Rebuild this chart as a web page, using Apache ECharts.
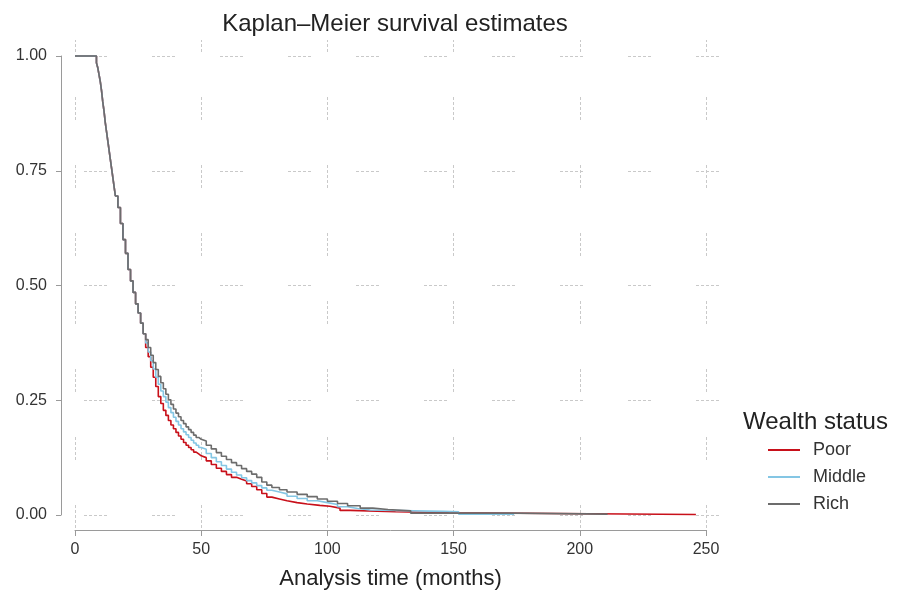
<!DOCTYPE html>
<html>
<head>
<meta charset="utf-8">
<script src="https://cdn.jsdelivr.net/npm/echarts@6/dist/echarts.min.js"></script>
<style>html,body{margin:0;padding:0;background:#fff}#c{width:898px;height:595px}</style>
</head>
<body>
<div id="c"></div>
<script>
// ---- data ----
var seriesNames = ['Poor', 'Middle', 'Rich'];
var xTicks = [0, 50, 100, 150, 200, 250];
var yTicks = [0, 0.25, 0.5, 0.75, 1];

var earlyTime = [0, 8.5, 9, 9.5, 10, 10.5, 11, 11.5, 12, 12.5, 13, 13.5, 14, 14.5, 15, 15.5, 16, 17, 18, 19, 20, 21, 22, 23, 24, 25, 26, 27];
var earlySurv = [1.000, 0.985, 0.975, 0.960, 0.945, 0.925, 0.900, 0.880, 0.855, 0.835, 0.815, 0.795, 0.775, 0.755, 0.735, 0.715, 0.695, 0.670, 0.635, 0.600, 0.570, 0.535, 0.510, 0.485, 0.460, 0.440, 0.418, 0.395];

var poorTime = [28, 29, 30, 31, 32, 33, 34, 35, 36, 37, 38, 39, 40, 41, 42, 43, 44, 45, 46, 47, 48, 49, 50, 52, 54, 56, 58, 60, 62, 64, 66, 68, 70, 72, 74, 76, 78, 81, 84, 88, 92, 97, 101, 105, 109, 127, 148, 246];
var poorSurv = [0.365, 0.345, 0.322, 0.300, 0.280, 0.258, 0.243, 0.228, 0.217, 0.206, 0.196, 0.188, 0.180, 0.172, 0.165, 0.158, 0.152, 0.147, 0.142, 0.137, 0.133, 0.129, 0.125, 0.118, 0.110, 0.102, 0.095, 0.088, 0.082, 0.078, 0.074, 0.068, 0.062, 0.055, 0.047, 0.039, 0.035, 0.031, 0.027, 0.024, 0.021, 0.019, 0.015, 0.010, 0.007, 0.005, 0.001, 0.001];

var middleTime = [28, 29, 30, 31, 32, 33, 34, 35, 36, 37, 38, 39, 40, 41, 42, 43, 44, 45, 46, 47, 48, 49, 50, 52, 54, 56, 58, 60, 62, 64, 66, 68, 70, 72, 74, 76, 78, 81, 84, 88, 92, 96, 100, 104, 108, 112, 117, 146, 152, 174];
var middleSurv = [0.375, 0.355, 0.336, 0.318, 0.300, 0.285, 0.270, 0.258, 0.246, 0.234, 0.223, 0.213, 0.204, 0.196, 0.188, 0.181, 0.175, 0.169, 0.163, 0.157, 0.152, 0.147, 0.143, 0.134, 0.125, 0.116, 0.108, 0.100, 0.093, 0.087, 0.081, 0.075, 0.070, 0.064, 0.059, 0.054, 0.050, 0.046, 0.041, 0.036, 0.031, 0.027, 0.023, 0.018, 0.014, 0.011, 0.008, 0.007, 0.002, 0.002];

var richTime = [28, 29, 30, 31, 32, 33, 34, 35, 36, 37, 38, 39, 40, 41, 42, 43, 44, 45, 46, 47, 48, 49, 50, 52, 54, 56, 58, 60, 62, 64, 66, 68, 70, 72, 74, 76, 78, 81, 84, 88, 92, 96, 100, 104, 108, 113, 118, 124, 133, 173, 211];
var richSurv = [0.382, 0.365, 0.348, 0.332, 0.317, 0.302, 0.288, 0.275, 0.263, 0.251, 0.241, 0.231, 0.222, 0.214, 0.206, 0.199, 0.192, 0.186, 0.180, 0.174, 0.169, 0.165, 0.161, 0.152, 0.144, 0.136, 0.128, 0.121, 0.114, 0.108, 0.101, 0.095, 0.089, 0.082, 0.072, 0.065, 0.060, 0.055, 0.050, 0.045, 0.040, 0.035, 0.030, 0.025, 0.020, 0.015, 0.012, 0.009, 0.004, 0.002, 0.002];

// ---- build ----
function pairs(t, s) { var out = []; for (var i = 0; i < t.length; i++) out.push([t[i], s[i]]); return out; }
var poorData = pairs(earlyTime, earlySurv).concat(pairs(poorTime, poorSurv));
var middleData = pairs(earlyTime, earlySurv).concat(pairs(middleTime, middleSurv));
var richData = pairs(earlyTime, earlySurv).concat(pairs(richTime, richSurv));

var colors = ['#c8101a', '#84c6e4', '#6c6c6c'];
var axisGray = '#9a9a9a';
var gridStyle = { color: '#c9c9c9', width: 1, type: [3, 2, 3, 2, 3, 2, 3, 2, 3, 45] };
var font = 'Liberation Sans, Arial, Helvetica, sans-serif';

var chart = echarts.init(document.getElementById('c'), null, { renderer: 'canvas' });
function mkSeries(name, data, color) {
  return {
    name: name, type: 'line', step: 'end', data: data, xAxisIndex: 0, yAxisIndex: 0,
    showSymbol: false, symbol: 'none', animation: false, clip: false,
    lineStyle: { color: color, width: 1.6 }, itemStyle: { color: color }
  };
}
chart.setOption({
  animation: false,
  textStyle: { fontFamily: font },
  title: [
    { text: 'Kaplan\u2013Meier survival estimates', left: 390, top: 7, textAlign: 'center',
      textStyle: { fontSize: 24, fontWeight: 'normal', color: '#222', fontFamily: font } },
    { text: 'Wealth status', left: 738, top: 405,
      textStyle: { fontSize: 24, fontWeight: 'normal', color: '#222', fontFamily: font } }
  ],
  legend: {
    data: seriesNames, orient: 'vertical', left: 763, top: 436,
    icon: 'rect', itemWidth: 32, itemHeight: 2, itemGap: 9,
    textStyle: { fontSize: 18, color: '#333', fontFamily: font, padding: [0, 0, 0, 8] }
  },
  grid: [
    { left: 75, right: 192, top: 56, bottom: 80 },
    { left: 75, right: 192, top: 40, bottom: 65 },
    { left: 62, right: 179, top: 56, bottom: 80 }
  ],
  xAxis: [
    { gridIndex: 0, type: 'value', min: xTicks[0], max: xTicks[xTicks.length - 1], interval: 50, offset: 15,
      axisLine: { show: true, onZero: false, lineStyle: { color: axisGray, width: 1 } },
      axisTick: { show: true, length: 6, lineStyle: { color: axisGray } },
      axisLabel: { fontSize: 16, color: '#333', margin: 12 },
      splitLine: { show: false },
      name: 'Analysis time (months)', nameLocation: 'middle', nameGap: 38,
      nameTextStyle: { fontSize: 22, color: '#222' } },
    { gridIndex: 1, type: 'value', min: xTicks[0], max: xTicks[xTicks.length - 1], interval: 50,
      axisLine: { show: false }, axisTick: { show: false }, axisLabel: { show: false },
      splitLine: { show: true, lineStyle: Object.assign({ dashOffset: 11 }, gridStyle) } },
    { gridIndex: 2, type: 'value', min: 0, max: 1,
      axisLine: { show: false }, axisTick: { show: false }, axisLabel: { show: false }, splitLine: { show: false } }
  ],
  yAxis: [
    { gridIndex: 0, type: 'value', min: yTicks[0], max: yTicks[yTicks.length - 1], interval: 0.25, offset: 14,
      axisLine: { show: true, onZero: false, lineStyle: { color: axisGray, width: 1 } },
      axisTick: { show: true, length: 5, lineStyle: { color: axisGray } },
      axisLabel: { fontSize: 16, color: '#333', margin: 14, formatter: function (v) { return v.toFixed(2); } },
      splitLine: { show: false } },
    { gridIndex: 1, type: 'value', min: 0, max: 1,
      axisLine: { show: false }, axisTick: { show: false }, axisLabel: { show: false }, splitLine: { show: false } },
    { gridIndex: 2, type: 'value', min: yTicks[0], max: yTicks[yTicks.length - 1], interval: 0.25,
      axisLine: { show: false }, axisTick: { show: false }, axisLabel: { show: false },
      splitLine: { show: true, lineStyle: Object.assign({ dashOffset: 46 }, gridStyle) } }
  ],
  series: [
    mkSeries(seriesNames[0], poorData, colors[0]),
    mkSeries(seriesNames[1], middleData, colors[1]),
    mkSeries(seriesNames[2], richData, colors[2])
  ]
});
</script>
</body>
</html>
